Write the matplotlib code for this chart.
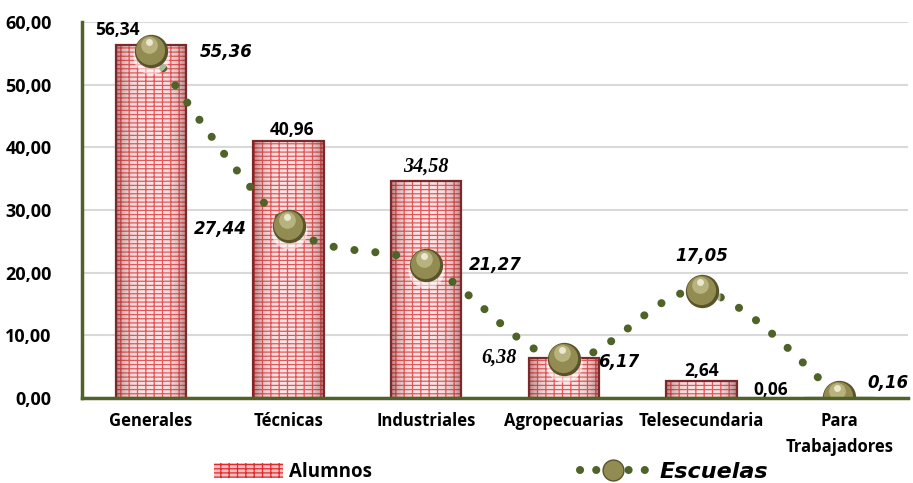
import matplotlib
matplotlib.use('Agg')
import numpy as np
from matplotlib import pyplot as plt
from matplotlib.path import Path
from matplotlib.patches import PathPatch, Patch
from matplotlib.lines import Line2D
from matplotlib import transforms

# Datos
categorias = ['Generales', 'Técnicas', 'Industriales', 'Agropecuarias',
              'Telesecundaria', 'Para\nTrabajadores']
alumnos = [56.34, 40.96, 34.58, 6.38, 2.64, 0.06]
escuelas = [55.36, 27.44, 21.27, 6.17, 17.05, 0.16]
y_ticks = [0, 10, 20, 30, 40, 50, 60]

# desplazamientos de etiquetas (pixeles)
off_alumnos = [(-33, 15), (4, 11), (0, 15), (-65, 0), (0, 10), (-68, 8)]
off_escuelas = [(75, -1), (-68, -3), (69, 0), (55, -3), (0, 35), (49, 14)]
serif_alumnos = [False, False, True, True, False, False]

OLIVA = '#4f6228'
ROJO_HATCH = '#e02a2e'
ROJO_BORDE = '#7a2a2a'
FUENTE = 'Open Sans'
PUNTOS = (0, (0.01, 2.6))

plt.rcParams['hatch.linewidth'] = 0.9

fig = plt.figure(figsize=(9.13, 4.83), dpi=100)
ax = fig.add_axes([82 / 913, 1 - 398 / 483, 826 / 913, 376 / 483])

x = np.arange(len(categorias))
ancho = 0.51

# barras con patron de ladrillo
barras = ax.bar(x, alumnos, ancho, color='#fbe0e0', edgecolor=ROJO_HATCH,
                hatch='--++', linewidth=0, zorder=2)
ax.bar(x, alumnos, ancho, fill=False, edgecolor=ROJO_BORDE, linewidth=1.6, zorder=4)

# sombreado tipo cilindro dentro de cada barra
g = np.linspace(-1, 1, 64)
grad = np.zeros((1, 64, 4))
k = np.abs(g) ** 2
grad[0, :, 0] = 1 - 0.5 * k
grad[0, :, 1] = 1 - 0.8 * k
grad[0, :, 2] = 1 - 0.8 * k
grad[0, :, 3] = 0.2 + 0.35 * k
for b in barras:
    im = ax.imshow(grad, extent=(b.get_x(), b.get_x() + b.get_width(), 0, b.get_height()),
                   aspect='auto', zorder=3, interpolation='bilinear')
    im.set_clip_path(b)

# linea suavizada (Bezier tipo Catmull-Rom, como Excel)
pts = np.column_stack([x, escuelas]).astype(float)
verts = [pts[0]]
codes = [Path.MOVETO]
n = len(pts)
for i in range(n - 1):
    p0 = pts[i - 1] if i > 0 else pts[i]
    p1 = pts[i]
    p2 = pts[i + 1]
    p3 = pts[i + 2] if i + 2 < n else pts[i + 1]
    verts += [p1 + (p2 - p0) / 6, p2 - (p3 - p1) / 6, p2]
    codes += [Path.CURVE4] * 3
linea = PathPatch(Path(verts, codes), fill=False, edgecolor=OLIVA, linewidth=5.8,
                  linestyle=PUNTOS, capstyle='round', zorder=5)
ax.add_patch(linea)

# marcadores tipo esfera
ax.plot(x, escuelas, 'o', ms=26, color='white', alpha=0.55, mec='none', zorder=5,
        transform=transforms.offset_copy(ax.transData, fig=fig, x=0, y=-5, units='dots'))
ax.plot(x, escuelas, 'o', ms=24, color='#58532a', mec='none', zorder=6)
ax.plot(x, escuelas, 'o', ms=21, color='#928c52', mec='none', zorder=6,
        transform=transforms.offset_copy(ax.transData, fig=fig, x=-1, y=1, units='dots'))
ax.plot(x, escuelas, 'o', ms=12, color='#bdb884', mec='none', zorder=6, alpha=0.9,
        transform=transforms.offset_copy(ax.transData, fig=fig, x=-2, y=6, units='dots'))
ax.plot(x, escuelas, 'o', ms=5, color='#f0eed8', mec='none', zorder=6, alpha=0.9,
        transform=transforms.offset_copy(ax.transData, fig=fig, x=-2, y=9, units='dots'))

# etiquetas
for i in range(n):
    if serif_alumnos[i]:
        fam, st, tam = 'Liberation Serif', 'italic', 14.5
    else:
        fam, st, tam = FUENTE, 'normal', 12.5
    ax.annotate(f'{alumnos[i]:.2f}'.replace('.', ','), (x[i], alumnos[i]),
                xytext=off_alumnos[i], textcoords='offset pixels', ha='center', va='center',
                fontsize=tam, fontweight='bold', family=fam, style=st, zorder=8)
    ax.annotate(f'{escuelas[i]:.2f}'.replace('.', ','), (x[i], escuelas[i]),
                xytext=off_escuelas[i], textcoords='offset pixels', ha='center', va='center',
                fontsize=12, fontweight='bold', family='DejaVu Sans', style='italic', zorder=8)

ax.set_xlim(-0.5, n - 0.5)
ax.set_ylim(0, 60)
ax.set_yticks(y_ticks)
ax.set_yticklabels([f'{v:.2f}'.replace('.', ',') for v in y_ticks],
                   fontsize=13, fontweight='bold', family=FUENTE)
ax.set_xticks(x)
ax.set_xticklabels(categorias, fontsize=12, fontweight='bold', family=FUENTE, linespacing=1.55)
ax.tick_params(axis='both', length=0)
ax.tick_params(axis='y', pad=22)
ax.tick_params(axis='x', pad=10)
ax.set_axisbelow(True)
ax.grid(axis='y', color='#d9d9d9', linewidth=1.5)
for s in ['top', 'right']:
    ax.spines[s].set_visible(False)
ax.spines['left'].set_color(OLIVA)
ax.spines['left'].set_linewidth(2.5)
ax.spines['bottom'].set_color(OLIVA)
ax.spines['bottom'].set_linewidth(2.5)
ax.spines['bottom'].set_zorder(7)

# leyendas
h1 = Patch(facecolor='#f3c0c0', edgecolor=ROJO_HATCH, hatch='--++', linewidth=0)
fig.legend([h1], ['Alumnos'], loc='center left', bbox_to_anchor=(197 / 913, 1 - 472 / 483),
           frameon=False, handlelength=3.7, handleheight=0.9, handletextpad=0.3,
           prop={'family': FUENTE, 'weight': 'bold', 'size': 13.5})
h2 = Line2D([0], [0], color=OLIVA, linewidth=5.8, linestyle=(0, (0.01, 2.0)),
            dash_capstyle='round', marker='o', ms=15, mfc='#928c52', mec='#58532a')
fig.legend([h2], ['Escuelas'], loc='center left', bbox_to_anchor=(560 / 913, 1 - 472 / 483),
           frameon=False, handlelength=3.0, handletextpad=0.6,
           prop={'family': 'DejaVu Sans', 'weight': 'bold', 'style': 'italic', 'size': 16})

fig.savefig('out.png', dpi=100)
